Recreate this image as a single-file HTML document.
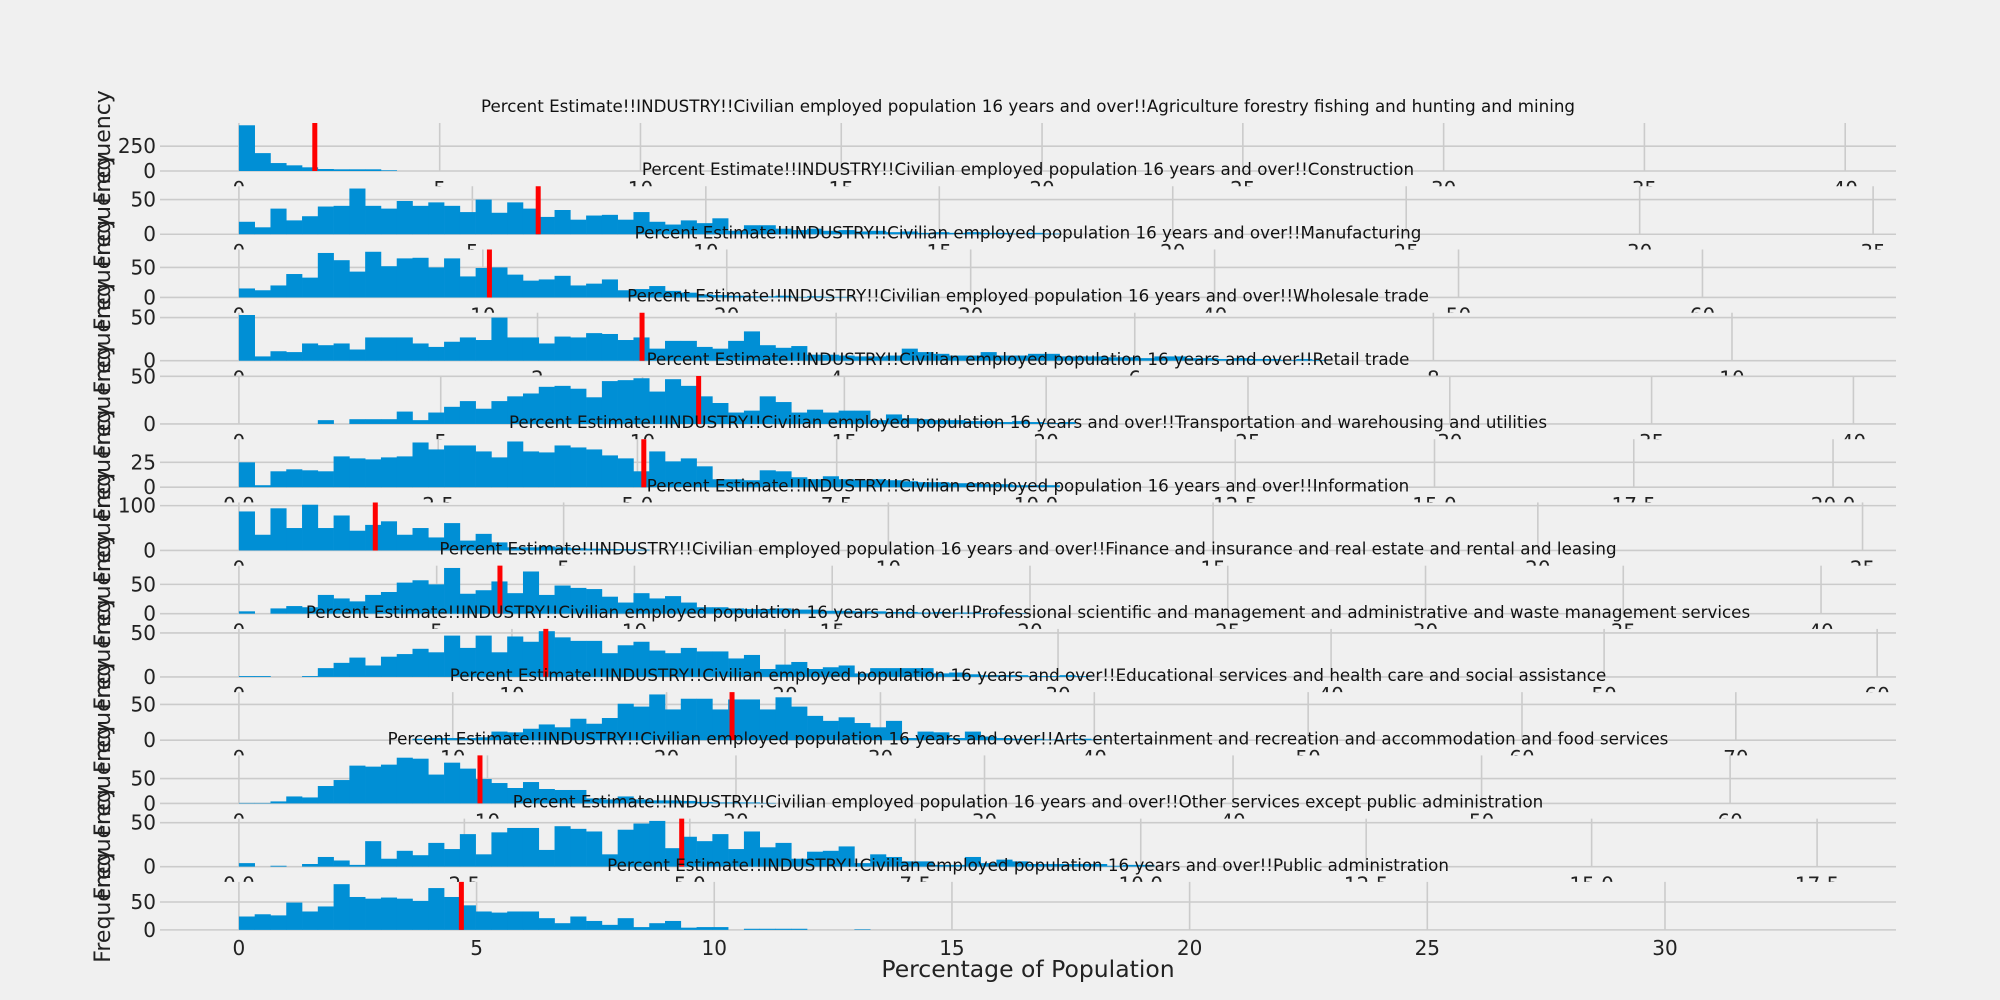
<!DOCTYPE html>
<html><head><meta charset="utf-8">
<style>
html,body{margin:0;padding:0;background:#f0f0f0;}
svg{display:block;font-family:"DejaVu Sans","Liberation Sans",sans-serif;}
</style></head>
<body>
<svg id="fig" width="2000" height="1000" viewBox="0 0 2000 1000" xmlns="http://www.w3.org/2000/svg">
<rect x="0" y="0" width="2000" height="1000" fill="#f0f0f0"/>
<g id="plots"></g>
<text x="1028" y="977" font-size="23.5" text-anchor="middle" fill="#222">Percentage of Population</text>
</svg>
<script>
const titles = [
 "Agriculture forestry fishing and hunting and mining","Construction","Manufacturing","Wholesale trade","Retail trade",
 "Transportation and warehousing and utilities","Information","Finance and insurance and real estate and rental and leasing",
 "Professional scientific and management and administrative and waste management services",
 "Educational services and health care and social assistance",
 "Arts entertainment and recreation and accommodation and food services",
 "Other services except public administration","Public administration"];
const counts1 = [460,180,80,57,37,20,17,17,17,7];
const counts2 = [18,10,37,20,26,40,41,66,41,37,48,41,46,41,32,50,31,46,37,25,35,21,27,28,21,32,18,14,20,16,23,5,13,13,8,6,8,5,6,4,5,3,4,2,3,2,3,2,2,1,2,1];
const counts3 = [15,12,20,39,33,74,62,43,76,52,65,66,50,65,35,49,50,38,28,30,36,20,23,30,12,14,19,11,8,5,4,3,2,2,3,1,2,1,1];
const counts4 = [53,5,11,10,20,18,20,13,27,27,27,20,16,22,27,24,50,27,27,20,28,27,32,31,24,27,14,23,23,16,14,23,34,18,15,17,7,7,6,5,5,6,14,10,8,6,6,10,6,6,8,8,5,5,5,4,4,3,5,5,3,3,2,3,2,2,1,2,1];
const counts5 = [0,0,0,0,0,4,0,5,5,5,13,4,12,18,24,16,24,29,32,39,40,37,28,45,46,48,34,47,40,29,22,12,14,29,23,12,15,12,14,14,4,10,6,5,4,4,3,3,2,3,2,1,2];
const counts6 = [25,2,16,18,17,16,31,29,28,30,31,45,38,42,42,36,30,46,36,35,42,40,38,32,29,16,36,26,29,21,8,8,7,17,16,10,8,11,8,7,8,7,6,5,5,4,4,3,3,2,2,2];
const counts7 = [87,35,94,50,102,50,78,44,57,65,35,50,29,61,22,37,18,7,7,9,7,5,4,3,3,2];
const counts8 = [4,0,9,13,11,32,26,21,32,37,53,57,50,78,34,40,55,35,72,32,48,44,42,29,19,35,26,30,19,11,11,9,8,8,9,7,7,5,5,4,4,3,3,2,3,2,2,1,2,1];
const counts9 = [1,1,0,0,1,10,16,22,13,23,26,32,28,47,33,47,28,46,40,52,45,41,41,27,36,40,30,27,33,29,29,21,25,9,14,17,9,11,13,4,10,10,10,10,4,5,3,2,2,2,1,1,2,1];
const counts10 = [0,0,0,0,0,0,0,0,0,0,0,2,3,3,3,4,12,11,16,22,18,30,23,31,51,47,64,43,58,58,43,57,57,43,60,47,34,27,32,24,18,27,3,12,11,3,12,5,3,2,2,1,1,2,1];
const counts11 = [1,1,4,14,12,35,47,76,74,78,92,90,58,82,70,49,41,31,43,29,27,27,10,8,14,8,6,6,5,3,2,2,2,1];
const counts12 = [4,0,1,0,3,11,7,2,29,9,18,13,27,20,37,14,39,44,44,19,46,43,40,14,42,49,52,21,34,29,37,20,40,22,27,9,17,18,23,4,14,11,6,6,2,2,11,4,8,6,3,3,3,3,3,1,2,2];
const counts13 = [24,28,26,49,33,42,82,59,56,58,56,52,75,59,44,33,31,33,33,21,12,24,16,9,21,5,12,16,4,5,5,0,2,2,2,2,0,0,0,1];
const allCounts = [counts1,counts2,counts3,counts4,counts5,counts6,counts7,counts8,counts9,counts10,counts11,counts12,counts13];
const means = [1.89,6.41,10.27,2.70,11.39,5.08,2.10,6.60,11.24,23.06,9.70,4.91,4.68];
const dataMax = [39.3,33.8,64.7,10.57,39.1,19.8,24.3,39.9,57.8,73.8,63.5,17.5,33.2];
const xTickStep = [5,5,10,2,5,2.5,5,5,10,10,10,2.5,5];
const yTickTop = [250,50,50,50,50,25,100,50,50,50,50,50,50];
const NBINS = 100;

const NS = "http://www.w3.org/2000/svg";
const root = document.getElementById('plots');
function mk(tag, attrs, parent){
  const e = document.createElementNS(NS, tag);
  for (const k in attrs) e.setAttribute(k, attrs[k]);
  parent.appendChild(e); return e;
}
const L = 160, W = 1736, H = 48;
for (let p = 0; p < 13; p++) {
  const bottom = 171 + 63.24 * p, top = bottom - H;
  const M = dataMax[p], c = allCounts[p];
  const xmin = -0.05 * M, xmax = 1.05 * M;
  const xs = v => L + (v - xmin) / (xmax - xmin) * W;
  const ymax = Math.max(...c) * 1.05;
  const ys = v => bottom - v / ymax * H;
  const g = mk('g', {}, root);
  
  
  const bg = mk('rect', {x: L, y: top, width: W, height: H, fill: '#f0f0f0'}, g);
  
  
  const step = xTickStep[p];
  for (let t = 0; t <= xmax + 1e-9; t += step) {
    const x = xs(t);
    const gl = mk('line', {x1: x, x2: x, y1: top, y2: bottom, stroke: '#cbcbcb', 'stroke-width': 1.6}, g);
    
    
    const tl = mk('text', {x: x, y: bottom + 25, 'font-size': 20, 'text-anchor': 'middle', fill: '#222'}, g);
    
    
    tl.textContent = step % 1 ? t.toFixed(1) : String(t);
  }
  [0, yTickTop[p]].forEach(v => {
    const y = ys(v);
    const gl = mk('line', {x1: L, x2: L + W, y1: y, y2: y, stroke: '#cbcbcb', 'stroke-width': 1.6}, g);
    
    
    const tl = mk('text', {x: 156, y: y + 7, 'font-size': 20, 'text-anchor': 'end', fill: '#222'}, g);
    
    
    tl.textContent = String(v);
  });
  const bw = M / NBINS;
  c.forEach((v, i) => {
    if (!v) return;
    const x0 = xs(i * bw), x1 = xs((i + 1) * bw);
    const r = mk('rect', {x: x0, y: ys(v), width: x1 - x0 + 0.3, height: bottom - ys(v), fill: '#008fd5'}, g);
    
    
  });
  const mx = xs(means[p]);
  const ml = mk('line', {x1: mx, x2: mx, y1: top, y2: bottom, stroke: '#ff0000', 'stroke-width': 5}, g);
  
  
  const tt = mk('text', {x: L + W / 2, y: top - 11, 'font-size': 16.7, 'text-anchor': 'middle', fill: '#111'}, g);
  
  
  tt.textContent = 'Percent Estimate!!INDUSTRY!!Civilian employed population 16 years and over!!' + titles[p];
  const cy = (top + bottom) / 2;
  const yl = mk('text', {x: 110, y: cy, 'font-size': 22, 'text-anchor': 'middle', fill: '#222', transform: 'rotate(-90 110 ' + cy + ')'}, g);
  
  
  yl.textContent = 'Frequency';
}
</script>
</body></html>
